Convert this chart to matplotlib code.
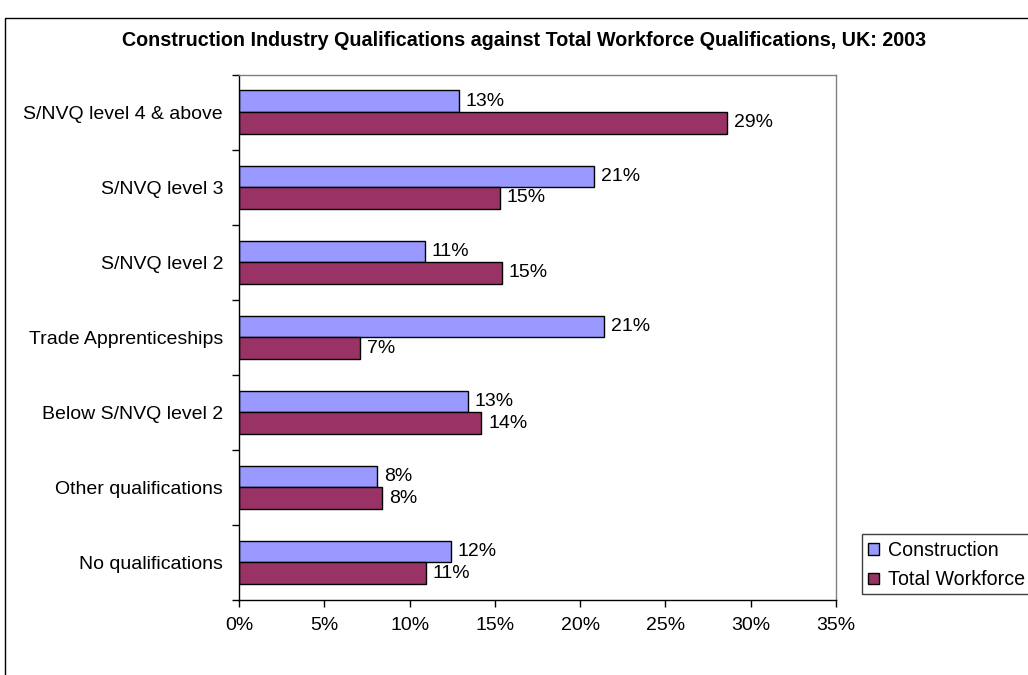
import matplotlib
matplotlib.use("Agg")
import matplotlib.pyplot as plt
from matplotlib.patches import Rectangle
from matplotlib.ticker import FixedLocator, FuncFormatter

categories = ["S/NVQ level 4 & above", "S/NVQ level 3", "S/NVQ level 2",
              "Trade Apprenticeships", "Below S/NVQ level 2",
              "Other qualifications", "No qualifications"]
construction = [12.9, 20.8, 10.9, 21.4, 13.4, 8.1, 12.4]
total_workforce = [28.6, 15.3, 15.4, 7.1, 14.2, 8.4, 10.95]
series_names = ["Construction", "Total Workforce"]
x_ticks = [0, 5, 10, 15, 20, 25, 30, 35]
title = "Construction Industry Qualifications against Total Workforce Qualifications, UK: 2003"

plt.rcParams['font.family'] = ['Liberation Sans', 'DejaVu Sans']
W, H = 1028, 675
fig = plt.figure(figsize=(W / 100, H / 100), dpi=100)

def fx(px):
    return px / W

def fy(py):
    return 1 - py / H

# outer chart border (clipped at right/bottom like the reference)
fig.patches.append(Rectangle((fx(5), -0.05), fx(W + 40), fy(18) + 0.05,
                             transform=fig.transFigure, fill=False,
                             edgecolor='black', linewidth=1.0, zorder=-1))

ax = fig.add_axes([fx(239), fy(600), fx(836 - 239), (600 - 74.5) / H])

fs = 14.0
bh = 0.287
pos = list(range(len(categories)))
b1 = ax.barh([p - bh / 2 for p in pos], construction, height=bh,
             color='#9999FF', edgecolor='black', linewidth=1.0,
             label=series_names[0])
b2 = ax.barh([p + bh / 2 for p in pos], total_workforce, height=bh,
             color='#993366', edgecolor='black', linewidth=1.0,
             label=series_names[1])

ax.bar_label(b1, labels=[f"{int(v + 0.5)}%" for v in construction],
             padding=5, fontsize=fs)
ax.bar_label(b2, labels=[f"{int(v + 0.5)}%" for v in total_workforce],
             padding=5, fontsize=fs)

ax.set_ylim(len(categories) - 0.5, -0.5)
ax.set_xlim(0, 35)
ax.set_yticks(pos)
ax.set_yticklabels(categories, fontsize=fs)
ax.yaxis.set_minor_locator(FixedLocator([p - 0.5 for p in pos] + [len(pos) - 0.5]))
ax.tick_params(axis='y', which='major', length=0, pad=11.5)
ax.tick_params(axis='y', which='minor', length=5, width=1.0, direction='out')
ax.set_xticks(x_ticks)
ax.xaxis.set_major_formatter(FuncFormatter(lambda v, p: f"{int(v)}%"))
ax.tick_params(axis='x', which='major', length=5, width=1.0, pad=7, labelsize=fs)

for s in ['left', 'bottom']:
    ax.spines[s].set_color('black')
    ax.spines[s].set_linewidth(1.0)
for s in ['top', 'right']:
    ax.spines[s].set_color('#808080')
    ax.spines[s].set_linewidth(1.0)

fig.text(fx(524), fy(40), title, ha='center', va='center',
         fontsize=14.2, fontweight='bold')

# legend frame (extends past the right edge like the reference)
fig.patches.append(Rectangle((fx(862), fy(594)), fx(200), (594 - 534) / H,
                             transform=fig.transFigure, fill=False,
                             edgecolor='#404040', linewidth=1.0, zorder=-1))
leg = fig.legend(handles=[b1, b2], loc='center left',
                 bbox_to_anchor=(fx(868), fy(565)),
                 bbox_transform=fig.transFigure, frameon=False,
                 fontsize=14.1, handlelength=0.55, handleheight=0.55,
                 handletextpad=0.45, labelspacing=0.55, borderpad=0,
                 borderaxespad=0)

fig.savefig("out.png", dpi=100)
